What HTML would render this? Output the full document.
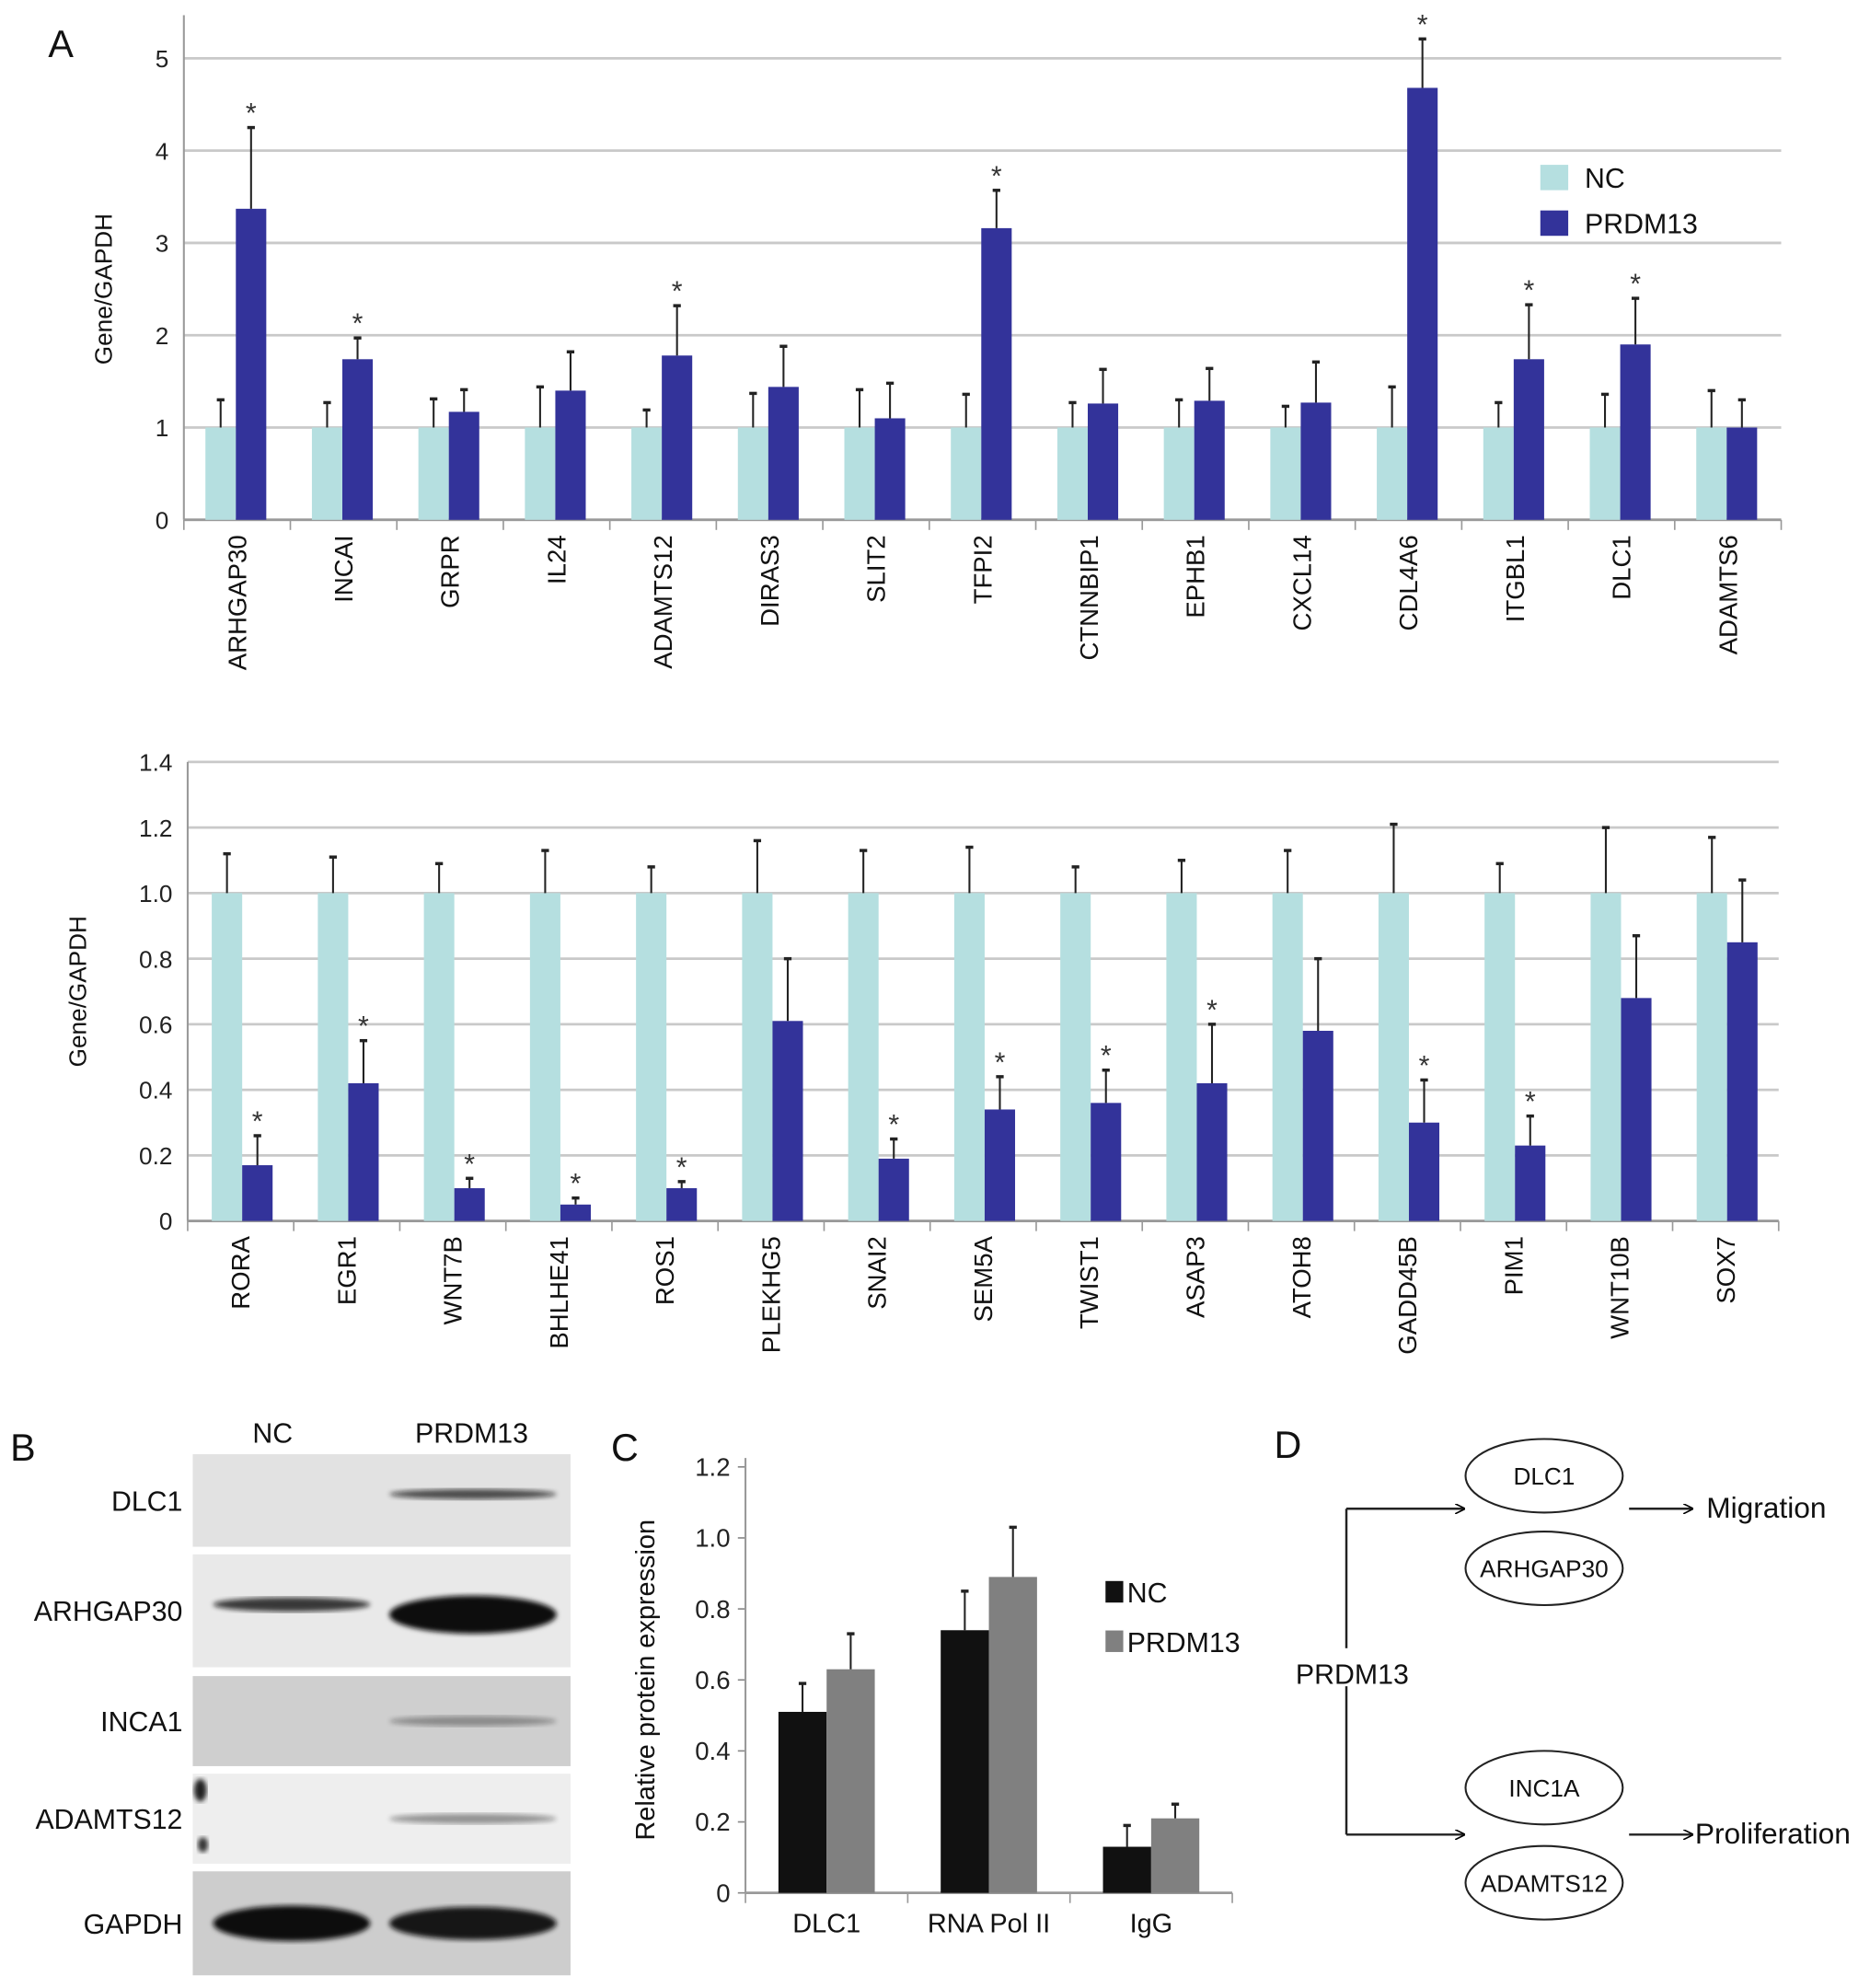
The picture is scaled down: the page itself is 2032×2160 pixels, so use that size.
<!DOCTYPE html>
<html><head><meta charset="utf-8"><style>
html,body{margin:0;padding:0;background:#fff;}
svg{display:block;font-family:"Liberation Sans",Arial,sans-serif;}
</style></head><body>
<svg id="fig" width="2032" height="2160" viewBox="0 0 1475 1568" xmlns="http://www.w3.org/2000/svg">
<defs>
<filter id="blur4"><feGaussianBlur stdDeviation="4"/></filter>
<filter id="blur2"><feGaussianBlur stdDeviation="2"/></filter>
<marker id="arr" viewBox="0 0 10 10" refX="9" refY="5" markerWidth="8" markerHeight="8" orient="auto" markerUnits="userSpaceOnUse"><path d="M0,0 L10,5 L0,10" fill="none" stroke="#000" stroke-width="1.5"/></marker>
</defs>
<g id="panelA1"></g>
<g id="panelA2"></g>
<g id="panelB"></g>
<g id="panelC"></g>
<g id="panelD"></g>
</svg>
<script>
// ---- Panel A top data ----
const catsA1 = ["ARHGAP30","INCAI","GRPR","IL24","ADAMTS12","DIRAS3","SLIT2","TFPI2","CTNNBIP1","EPHB1","CXCL14","CDL4A6","ITGBL1","DLC1","ADAMTS6"];
const ncA1 = [1,1,1,1,1,1,1,1,1,1,1,1,1,1,1];
const ncErrA1 = [1.30,1.27,1.31,1.44,1.19,1.37,1.41,1.36,1.27,1.30,1.23,1.44,1.27,1.36,1.40];
const prA1 = [3.37,1.74,1.17,1.40,1.78,1.44,1.10,3.16,1.26,1.29,1.27,4.68,1.74,1.90,1.00];
const prErrA1 = [4.25,1.97,1.41,1.82,2.32,1.88,1.48,3.57,1.63,1.64,1.71,5.21,2.33,2.40,1.30];
const starA1 = [1,1,0,0,1,0,0,1,0,0,0,1,1,1,0];
const ticksA1 = ["0","1","2","3","4","5"];
// ---- Panel A bottom data ----
const catsA2 = ["RORA","EGR1","WNT7B","BHLHE41","ROS1","PLEKHG5","SNAI2","SEM5A","TWIST1","ASAP3","ATOH8","GADD45B","PIM1","WNT10B","SOX7"];
const ncA2 = [1,1,1,1,1,1,1,1,1,1,1,1,1,1,1];
const ncErrA2 = [1.12,1.11,1.09,1.13,1.08,1.16,1.13,1.14,1.08,1.10,1.13,1.21,1.09,1.20,1.17];
const prA2 = [0.17,0.42,0.10,0.05,0.10,0.61,0.19,0.34,0.36,0.42,0.58,0.30,0.23,0.68,0.85];
const prErrA2 = [0.26,0.55,0.13,0.07,0.12,0.80,0.25,0.44,0.46,0.60,0.80,0.43,0.32,0.87,1.04];
const starA2 = [1,1,1,1,1,0,1,1,1,1,0,1,1,0,0];
const ticksA2 = ["0","0.2","0.4","0.6","0.8","1.0","1.2","1.4"];
// ---- Panel C data ----
const catsC = ["DLC1","RNA Pol II","IgG"];
const ncC = [0.51,0.74,0.13];
const ncErrC = [0.59,0.85,0.19];
const prC = [0.63,0.89,0.21];
const prErrC = [0.73,1.03,0.25];
const ticksC = ["0","0.2","0.4","0.6","0.8","1.0","1.2"];

const NS="http://www.w3.org/2000/svg";
function mk(parent,tag,attrs,text){const e=document.createElementNS(NS,tag);for(const k in attrs)e.setAttribute(k,attrs[k]);if(text!==undefined)e.textContent=text;parent.appendChild(e);return e;}

function barChart(g,o){
  const n=o.cats.length, cw=(o.x1-o.x0)/n;
  const y=v=>o.yb-(v-0)/(o.vmax)*(o.yb-o.yt);
  const xc=i=>o.x0+i*cw;
  o.ticks.forEach((t)=>{
    const v=parseFloat(t), yy=y(v);
    if(o.grid){const l=mk(g,'line',{x1:o.x0,x2:o.gridEnd||o.x1,y1:yy,y2:yy,stroke:'#c9c9c9','stroke-width':2});
      
      }
    else{mk(g,'line',{x1:o.x0-6,x2:o.x0,y1:yy,y2:yy,stroke:'#888','stroke-width':1.2});}
    const tx=mk(g,'text',{x:o.x0-12,y:yy+7,'text-anchor':'end','font-size':o.tickFs,fill:'#222'},t);
    
    
  });
  mk(g,'line',{x1:o.x0,x2:o.x0,y1:o.axTop,y2:o.yb,stroke:'#999','stroke-width':1.5});
  mk(g,'line',{x1:o.x0,x2:o.x1,y1:o.yb,y2:o.yb,stroke:'#999','stroke-width':2});
  for(let i=0;i<=n;i++){mk(g,'line',{x1:xc(i),x2:xc(i),y1:o.yb,y2:o.yb+8,stroke:'#999','stroke-width':1.2});}
  o.cats.forEach((c,i)=>{
    const bx=xc(i)+o.off;
    const nb=mk(g,'rect',{x:bx,y:y(o.nc[i]),width:o.bw,height:o.yb-y(o.nc[i]),fill:o.c1});
    
    
    const ex1=bx+o.bw*o.errPos;
    mk(g,'line',{x1:ex1,x2:ex1,y1:y(o.nc[i]),y2:y(o.ncErr[i]),stroke:'#222','stroke-width':1.5});
    mk(g,'line',{x1:ex1-3,x2:ex1+3,y1:y(o.ncErr[i]),y2:y(o.ncErr[i]),stroke:'#222','stroke-width':2.5});
    const px=bx+o.bw;
    const pb=mk(g,'rect',{x:px,y:y(o.pr[i]),width:o.bw,height:o.yb-y(o.pr[i]),fill:o.c2});
    
    
    const ex2=px+o.bw*o.errPos;
    mk(g,'line',{x1:ex2,x2:ex2,y1:y(o.pr[i]),y2:y(o.prErr[i]),stroke:'#222','stroke-width':1.5});
    mk(g,'line',{x1:ex2-3,x2:ex2+3,y1:y(o.prErr[i]),y2:y(o.prErr[i]),stroke:'#222','stroke-width':2.5});
    if(o.star&&o.star[i]){const s=mk(g,'text',{x:ex2,y:y(o.prErr[i])-4,'text-anchor':'middle','font-size':22,fill:'#333'},'*');
      
      }
    const cx=xc(i)+cw/2+(o.labShift||0);
    let lab;
    if(o.rot){lab=mk(g,'text',{x:0,y:0,transform:`translate(${cx+7},${o.labY}) rotate(-90)`,'text-anchor':'end','font-size':o.labFs,fill:'#111'},c);}
    else{lab=mk(g,'text',{x:cx,y:o.labY,'text-anchor':'middle','font-size':o.labFs,fill:'#111'},c);}
    
    
  });
  const yt=mk(g,'text',{transform:`translate(${o.ytx},${(o.yt+o.yb)/2}) rotate(-90)`,'text-anchor':'middle','font-size':o.ytFs,fill:'#111'},o.ytitle);
  
  
}

const gA1=document.getElementById('panelA1');
barChart(gA1,{cats:catsA1,nc:ncA1,ncErr:ncErrA1,pr:prA1,prErr:prErrA1,star:starA1,ticks:ticksA1,
 x0:145,x1:1405,yb:410,yt:46,vmax:5,axTop:12,gridEnd:1405,grid:true,off:17,bw:24,errPos:0.5,c1:'#b5dfe0',c2:'#33339a',
 tickFs:19,labFs:20,rot:true,labY:422,ytx:88,ytitle:'Gene/GAPDH',ytFs:19});
const gA2=document.getElementById('panelA2');
barChart(gA2,{cats:catsA2,nc:ncA2,ncErr:ncErrA2,pr:prA2,prErr:prErrA2,star:starA2,ticks:ticksA2,
 x0:148,x1:1403,yb:963,yt:601,vmax:1.4,axTop:601,grid:true,off:19,bw:24,errPos:0.5,c1:'#b5dfe0',c2:'#33339a',
 tickFs:19,labFs:20,rot:true,labY:975,ytx:68,ytitle:'Gene/GAPDH',ytFs:19});
(function(){
 const a=mk(gA1,'text',{x:38,y:45,'font-size':30,fill:'#111'},'A');
 
 
 const l1=mk(gA1,'rect',{x:1215,y:130,width:22,height:20,fill:'#b5dfe0'});
 
 
 const t1=mk(gA1,'text',{x:1250,y:148,'font-size':22,fill:'#111'},'NC');
 
 
 const l2=mk(gA1,'rect',{x:1215,y:166,width:22,height:20,fill:'#33339a'});
 
 
 const t2=mk(gA1,'text',{x:1250,y:184,'font-size':22,fill:'#111'},'PRDM13');
 
 
})();

const gC=document.getElementById('panelC');
barChart(gC,{cats:catsC,nc:ncC,ncErr:ncErrC,pr:prC,prErr:prErrC,star:null,ticks:ticksC,
 x0:588,x1:972,yb:1493,yt:1157,vmax:1.2,axTop:1150,grid:false,off:26,bw:38,errPos:0.5,c1:'#111',c2:'#808080',
 tickFs:20,labFs:21,rot:false,labY:1524,ytx:516,ytitle:'Relative protein expression',ytFs:21});
(function(){
 const c=mk(gC,'text',{x:482,y:1152,'font-size':30,fill:'#111'},'C');
 
 
 const s1=mk(gC,'rect',{x:872,y:1247,width:14,height:17,fill:'#111'});
 
 
 const t1=mk(gC,'text',{x:889,y:1264,'font-size':22,fill:'#111'},'NC');
 
 
 const s2=mk(gC,'rect',{x:872,y:1286,width:14,height:17,fill:'#808080'});
 
 
 const t2=mk(gC,'text',{x:889,y:1303,'font-size':22,fill:'#111'},'PRDM13');
 
 
})();

const blotNames=["DLC1","ARHGAP30","INCA1","ADAMTS12","GAPDH"];
const blotTop=[1147,1226,1322,1399,1476];
const blotBot=[1220,1315,1393,1470,1558];
const blotBg=['#e2e2e2','#e9e9e9','#cfcfcf','#eeeeee','#cdcdcd'];
const bandNC=[0,0.8,0,0,1];
const bandPR=[0.7,1,0.35,0.4,0.95];
(function(){
 const g=document.getElementById('panelB');
 const b=mk(g,'text',{x:8,y:1152,'font-size':30,fill:'#111'},'B');
 
 
 const h1=mk(g,'text',{x:215,y:1138,'text-anchor':'middle','font-size':22,fill:'#111'},'NC');
 
 
 const h2=mk(g,'text',{x:372,y:1138,'text-anchor':'middle','font-size':22,fill:'#111'},'PRDM13');
 
 
 blotNames.forEach((nm,i)=>{
  const t=blotTop[i],bt=blotBot[i],mid=(t+bt)/2;
  const r=mk(g,'rect',{x:152,y:t,width:298,height:bt-t,fill:blotBg[i]});
  
  
  if(bandNC[i]>0){const e=mk(g,'ellipse',{cx:230,cy:mid+(i==1?-5:0),rx:62,ry:(i==4?14:7)*bandNC[i],fill:'#111',opacity:bandNC[i],filter:'url(#blur2)'});
   
   }
  if(bandPR[i]>0){const th=i==1?15:(i==4?13:4);
   const e=mk(g,'ellipse',{cx:373,cy:mid+(i==1?3:(i==0?-5:0)),rx:66,ry:th,fill:'#111',opacity:bandPR[i],filter:'url(#blur2)'});
   
   }
  const lab=mk(g,'text',{x:144,y:mid+8,'text-anchor':'end','font-size':22,fill:'#111'},nm);
  
  
 });
 mk(g,'ellipse',{cx:158,cy:1412,rx:5,ry:9,fill:'#222',filter:'url(#blur2)'});
 mk(g,'ellipse',{cx:160,cy:1455,rx:4,ry:6,fill:'#333',filter:'url(#blur2)'});
})();

const ovals=[["DLC1",1164],["ARHGAP30",1237],["INC1A",1410],["ADAMTS12",1485]];
(function(){
 const g=document.getElementById('panelD');
 const d=mk(g,'text',{x:1005,y:1150,'font-size':30,fill:'#111'},'D');
 
 
 ovals.forEach(([nm,cy])=>{
  const e=mk(g,'ellipse',{cx:1218,cy:cy,rx:62,ry:29,fill:'#fff',stroke:'#222','stroke-width':1.5});
  
  
  const t=mk(g,'text',{x:1218,y:cy+7,'text-anchor':'middle','font-size':19,fill:'#111'},nm);
  
  
 });
 mk(g,'line',{x1:1062,x2:1062,y1:1190,y2:1447,stroke:'#222','stroke-width':1.8});
 [[1062,1190,1155,1190],[1062,1447,1155,1447],[1285,1190,1335,1190],[1285,1447,1335,1447]].forEach(a=>{
  const l=mk(g,'line',{x1:a[0],y1:a[1],x2:a[2],y2:a[3],stroke:'#222','stroke-width':1.8,'marker-end':'url(#arr)'});
  
  
 });
 mk(g,'rect',{x:1020,y:1300,width:104,height:30,fill:'#fff'});
 const pt=mk(g,'text',{x:1022,y:1328,'font-size':22,fill:'#111'},'PRDM13');
 
 
 const m=mk(g,'text',{x:1346,y:1197,'font-size':23,fill:'#111'},'Migration');
 
 
 const pr=mk(g,'text',{x:1337,y:1454,'font-size':23,fill:'#111'},'Proliferation');
 
 
})();
</script>
</body></html>
